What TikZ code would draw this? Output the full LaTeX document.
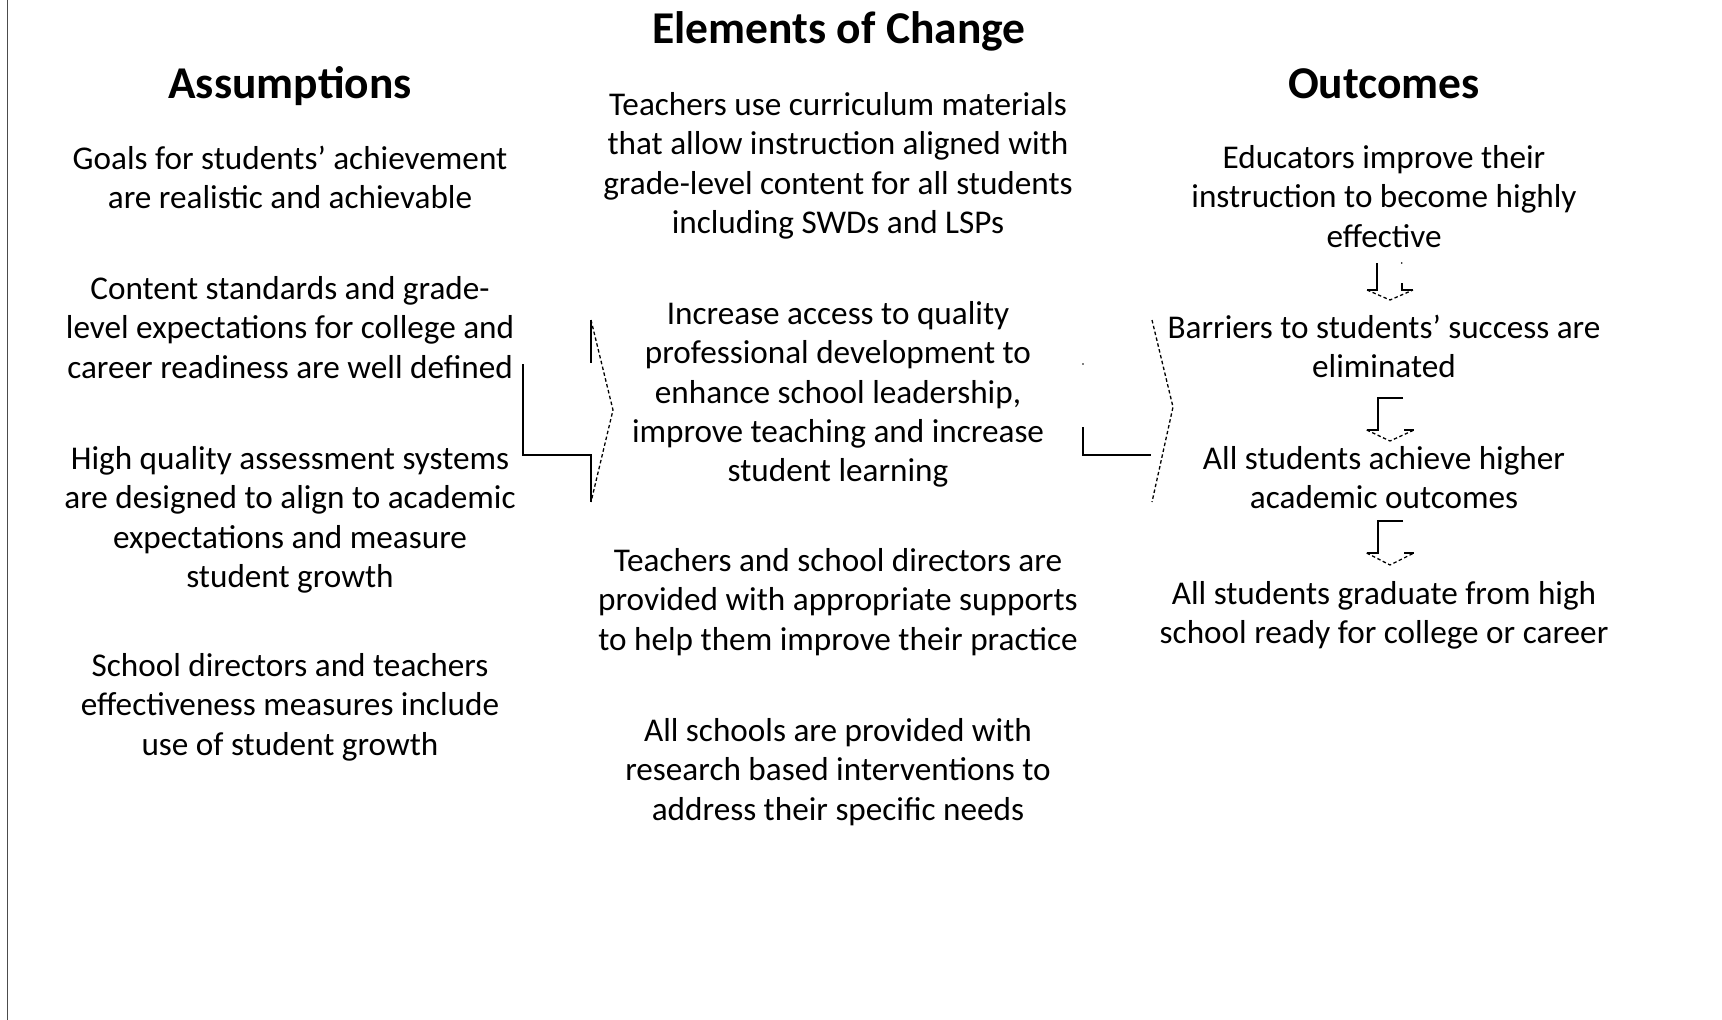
\documentclass[tikz,border=0pt]{standalone}
\usepackage{fontspec}
\setmainfont{Carlito}
\begin{document}
\begin{tikzpicture}[x=1pt,y=-1pt,
  body/.style={align=center,anchor=base,inner sep=0pt,
    font=\fontsize{33.2}{39.3}\selectfont},
  head/.style={anchor=base,inner sep=0pt,font=\fontsize{45.5}{50}\selectfont\bfseries},
  solidline/.style={line width=1.7pt,black},
  dashline/.style={line width=1.3pt,black,dash pattern=on 3.5pt off 2.5pt}]
\useasboundingbox (0,0) rectangle (1722,1020);
\fill[white] (0,0) rectangle (1722,1020);
% left page edge
\draw[line width=1.6pt,black!70] (7.5,0) -- (7.5,1020);

% headings
\node[head] (title) at (839,43.3) {Elements of Change};
\node[head] (assum) at (290,98) {Assumptions};
\node[head] (outc) at (1384,98) {Outcomes};

% assumptions (node base = baseline of the last line)
\node[body] (a1) at (290,208.8) {Goals for students’ achievement\\are realistic and achievable};
\node[body] (a2) at (290,378.1) {Content standards and grade-\\level expectations for college and\\career readiness are well defined};
\node[body] (a3) at (290,587.4) {High quality assessment systems\\are designed to align to academic\\expectations and measure\\student growth};
\node[body] (a4) at (290,755.1) {School directors and teachers\\effectiveness measures include\\use of student growth};

% elements of change
\node[body] (e1) at (838,233.4) {Teachers use curriculum materials\\that allow instruction aligned with\\grade-level content for all students\\including SWDs and LSPs};
\node[body] (e2) at (838,481.7) {Increase access to quality\\professional development to\\enhance school leadership,\\improve teaching and increase\\student learning};
\node[body] (e3) at (838,650.1) {Teachers and school directors are\\provided with appropriate supports\\to help them improve their practice};
\node[body] (e4) at (838,820.1) {All schools are provided with\\research based interventions to\\address their specific needs};

% outcomes
\node[body] (o1) at (1384,247.1) {Educators improve their\\instruction to become highly\\effective};
\node[body] (o2) at (1384,377.8) {Barriers to students’ success are\\eliminated};
\node[body] (o3) at (1384,508.8) {All students achieve higher\\academic outcomes};
\node[body] (o4) at (1384,643.8) {All students graduate from high\\school ready for college or career};

% bracket arrow: assumptions -> elements of change
\coordinate (l1) at (522.7,364);
\coordinate (l2) at (522.7,455);
\coordinate (l3) at (591,455);
\coordinate (l4) at (591,502);
\coordinate (l5) at (591,320);
\coordinate (l6) at (591,363);
\coordinate (ltip) at (613,410);
\draw[solidline] (l1) -- (l2) -- (l3) -- (l4);
\draw[solidline] (l5) -- (l6);
\draw[dashline] (l5) -- (ltip) -- (l4);

% bracket arrow: elements of change -> outcomes
\coordinate (r0) at (1083,364);
\coordinate (r1) at (1083,427);
\coordinate (r2) at (1083,455);
\coordinate (r3) at (1151,455);
\coordinate (r5) at (1152,320);
\coordinate (r4) at (1152,502);
\coordinate (rtip) at (1173,407);
\fill (r0) circle (0.9pt);
\draw[solidline] (r1) -- (r2) -- (r3);
\draw[dashline] (r5) -- (rtip) -- (r4);

% down arrow o1 -> o2
\coordinate (d1a) at (1376.7,263);
\coordinate (d1b) at (1376.7,290);
\coordinate (d1c) at (1367,290);
\coordinate (d1d) at (1401.7,283);
\coordinate (d1e) at (1401.7,290);
\coordinate (d1f) at (1413,290);
\coordinate (d1t) at (1390,300);
\draw[solidline] (d1a) -- (d1b) -- (d1c);
\draw[solidline] (d1d) -- (d1e) -- (d1f);
\fill (1401.7,263) circle (0.9pt);
\draw[dashline] (d1c) -- (d1t) -- (d1f);

% down arrow o2 -> o3
\coordinate (d2a) at (1403,398);
\coordinate (d2b) at (1377.7,398);
\coordinate (d2c) at (1377.7,430);
\coordinate (d2d) at (1366.7,430);
\coordinate (d2f) at (1404,430);
\coordinate (d2e) at (1414,430);
\coordinate (d2t) at (1390,441);
\draw[solidline] (d2a) -- (d2b) -- (d2c) -- (d2d);
\draw[solidline] (d2f) -- (d2e);
\draw[dashline] (d2d) -- (d2t) -- (d2e);

% down arrow o3 -> o4
\coordinate (d3a) at (1403,520.7);
\coordinate (d3b) at (1377.7,520.7);
\coordinate (d3c) at (1377.7,553);
\coordinate (d3d) at (1366.7,553);
\coordinate (d3f) at (1404,553);
\coordinate (d3e) at (1414,553);
\coordinate (d3t) at (1390,565);
\draw[solidline] (d3a) -- (d3b) -- (d3c) -- (d3d);
\draw[solidline] (d3f) -- (d3e);
\draw[dashline] (d3d) -- (d3t) -- (d3e);
\end{tikzpicture}
\end{document}
